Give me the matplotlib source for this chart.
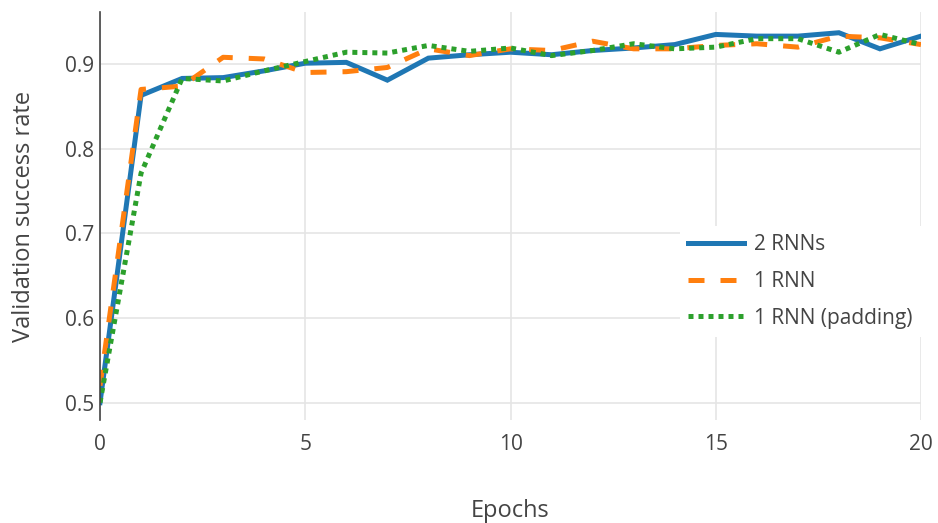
import numpy as np
import matplotlib
matplotlib.use("Agg")
import matplotlib.pyplot as plt

plt.rcParams['font.family'] = ['Open Sans', 'DejaVu Sans']

# data
epochs = list(range(21))
two_rnns = [0.500, 0.863, 0.883, 0.884, 0.892, 0.901, 0.902, 0.881, 0.907, 0.911, 0.914,
            0.911, 0.916, 0.919, 0.923, 0.935, 0.933, 0.933, 0.937, 0.918, 0.933]
one_rnn = [0.520, 0.870, 0.874, 0.908, 0.906, 0.890, 0.891, 0.896, 0.918, 0.910, 0.918,
           0.916, 0.927, 0.918, 0.918, 0.922, 0.924, 0.920, 0.933, 0.931, 0.923]
one_rnn_padding = [0.500, 0.771, 0.883, 0.880, 0.892, 0.903, 0.914, 0.913, 0.922, 0.915, 0.919,
                   0.910, 0.916, 0.924, 0.918, 0.920, 0.930, 0.930, 0.914, 0.935, 0.923]
labels = ['2 RNNs', '1 RNN', '1 RNN (padding)']

text_col = '#444444'
grid_col = '#e5e5e5'

fig = plt.figure(figsize=(9.38, 5.23), dpi=100)
ax = fig.add_axes([100/938, 1 - 420/523, 821/938, 408/523])

lw = 3.6
ax.plot(epochs, two_rnns, color='#1f77b4', lw=lw, label=labels[0], solid_joinstyle='miter')
ax.plot(epochs, one_rnn, color='#ff7f0e', lw=lw, ls=(0, (3.2, 3.2)), label=labels[1],
        dash_capstyle='butt')
ax.plot(epochs, one_rnn_padding, color='#2ca02c', lw=lw, ls=(0, (1, 1)), label=labels[2],
        dash_capstyle='butt')

ax.set_xlim(0, 20)
ax.set_ylim(0.4795, 0.9615)
ax.set_xticks([0, 5, 10, 15, 20])
ax.set_yticks([0.5, 0.6, 0.7, 0.8, 0.9])
ax.set_yticklabels(['0.5', '0.6', '0.7', '0.8', '0.9'])
ax.grid(True, color=grid_col, lw=1.2)
ax.set_axisbelow(True)

for s in ['top', 'right', 'bottom']:
    ax.spines[s].set_visible(False)
ax.spines['left'].set_color(text_col)
ax.spines['left'].set_linewidth(1.2)
ax.tick_params(axis='both', length=0, labelsize=15, colors=text_col)
ax.tick_params(axis='x', pad=10)
ax.tick_params(axis='y', pad=4)

ax.set_xlabel('Epochs', fontsize=17, color=text_col, labelpad=32)
ax.set_ylabel('Validation success rate', fontsize=17, color=text_col, labelpad=21)

leg = ax.legend(loc='upper left', bbox_to_anchor=(580/821, (420 - 226)/408),
                frameon=True, fontsize=15, handlelength=2.65, handletextpad=0.5,
                labelspacing=0.75, borderpad=0.4, borderaxespad=0)
leg.get_frame().set_edgecolor('none')
leg.get_frame().set_facecolor('white')
leg.get_frame().set_alpha(1)
leg.get_frame().set_boxstyle('square', pad=0)
for t in leg.get_texts():
    t.set_color(text_col)

fig.savefig('out.png', dpi=100)
